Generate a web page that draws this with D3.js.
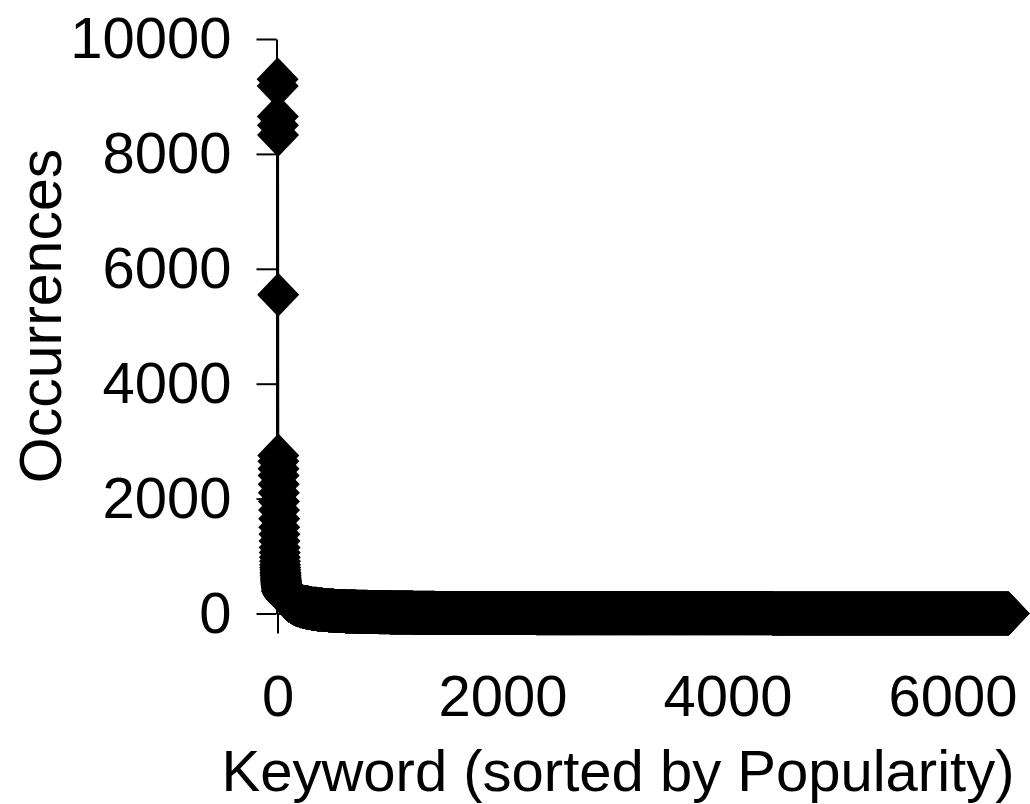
<!DOCTYPE html>
<html>
<head>
<meta charset="utf-8">
<script src="https://cdn.jsdelivr.net/npm/d3@7"></script>
<style>
  html, body { margin: 0; padding: 0; background: #fff; }
  svg { display: block; }
  text { font-family: "Liberation Sans", Arial, sans-serif; fill: #000; }
</style>
</head>
<body>
<svg id="chart"></svg>
<script>
// keyword occurrences, ranks 1..40 (the steep head)
var headOccurrences = [9300, 9180, 8650, 8500, 8330, 5550, 2750, 2650, 2520, 2400,
                       2250, 2100, 1950, 1800, 1650, 1500, 1380, 1260, 1150, 1060,
                       980, 910, 850, 800, 760, 720, 690, 660, 630, 600,
                       580, 560, 540, 520, 500, 485, 470, 455, 440, 425]

// the long tail, as groups of keywords sharing one count
var tailFromRank    = [41, 51, 61, 71, 81, 91, 101, 121, 141, 161, 181, 201, 226, 251, 276,
                       301, 351, 401, 451, 501, 601, 701, 801, 901, 1001, 1201, 1401, 1801,
                       2301, 2901, 3601, 4401, 5401]
var tailToRank      = [50, 60, 70, 80, 90, 100, 120, 140, 160, 180, 200, 225, 250, 275, 300,
                       350, 400, 450, 500, 600, 700, 800, 900, 1000, 1200, 1400, 1800, 2300,
                       2900, 3600, 4400, 5400, 6500]
var tailOccurrences = [390, 345, 312, 285, 262, 243, 222, 196, 175, 157, 142, 127, 114, 103, 94,
                       83, 71, 62, 54, 45, 36, 30, 24, 20, 16, 12, 9, 7,
                       5, 4, 3, 2, 1]

var xTicks = [0, 2000, 4000, 6000]
var yTicks = [0, 2000, 4000, 6000, 8000, 10000]

var dimensions = { width: 1030, height: 804 }

var dataset = headOccurrences.map(function(v, i) { return { rank: i + 1, occ: v } })
tailFromRank.forEach(function(from, g) {
  for (var r = from; r <= tailToRank[g]; r++) {
    dataset.push({ rank: r, occ: tailOccurrences[g] })
  }
})

var svg = d3.select("#chart")
            .attr("width", dimensions.width)
            .attr("height", dimensions.height)

svg.append("rect")
   .attr("width", dimensions.width)
   .attr("height", dimensions.height)
   .attr("fill", "#fff")

var xScale = d3.scaleLinear()
               .domain([0, 6000])
               .range([277.5, 952.5])

var yScale = d3.scaleLinear()
               .domain([0, 10000])
               .range([613.5, 39])

var xAxisGen = d3.axisBottom(xScale)
                 .tickValues(xTicks)
                 .tickFormat(d3.format("d"))
                 .tickSize(20)
                 .tickSizeOuter(0)
                 .tickPadding(41)
var xAxis = svg.append("g")
               .attr("transform", `translate(0, ${yScale(0)})`)
               .call(xAxisGen)

var yAxisGen = d3.axisLeft(yScale)
                 .tickValues(yTicks)
                 .tickFormat(d3.format("d"))
                 .tickSize(20)
                 .tickSizeOuter(0)
                 .tickPadding(25)
var yAxis = svg.append("g")
               .attr("transform", `translate(${xScale(0) - 1}, 0)`)
               .call(yAxisGen)

svg.selectAll(".domain, .tick line")
   .attr("stroke", "#000")
   .attr("stroke-width", 2)
svg.selectAll(".tick text")
   .style("font-size", "58px")
   .style("font-family", "'Liberation Sans', Arial, sans-serif")

// connecting line
var line = d3.line()
             .x(d => xScale(d.rank))
             .y(d => yScale(d.occ))
svg.append("path")
   .datum(dataset)
   .attr("d", line)
   .attr("fill", "none")
   .attr("stroke", "#000")
   .attr("stroke-width", 2)

// diamond markers
var diamond = "M0,-22L21,0L0,22L-21,0Z"
svg.append("g")
   .selectAll("path")
   .data(dataset)
   .enter()
   .append("path")
   .attr("d", diamond)
   .attr("transform", d => `translate(${xScale(d.rank)}, ${yScale(d.occ)})`)
   .attr("fill", "#000")

svg.append("text")
   .attr("text-anchor", "middle")
   .style("font-size", "58px")
   .attr("transform", "translate(618, 791)")
   .text("Keyword (sorted by Popularity)")

svg.append("text")
   .attr("text-anchor", "middle")
   .style("font-size", "59px")
   .attr("transform", "translate(61, 316) rotate(-90)")
   .text("Occurrences")
</script>
</body>
</html>
